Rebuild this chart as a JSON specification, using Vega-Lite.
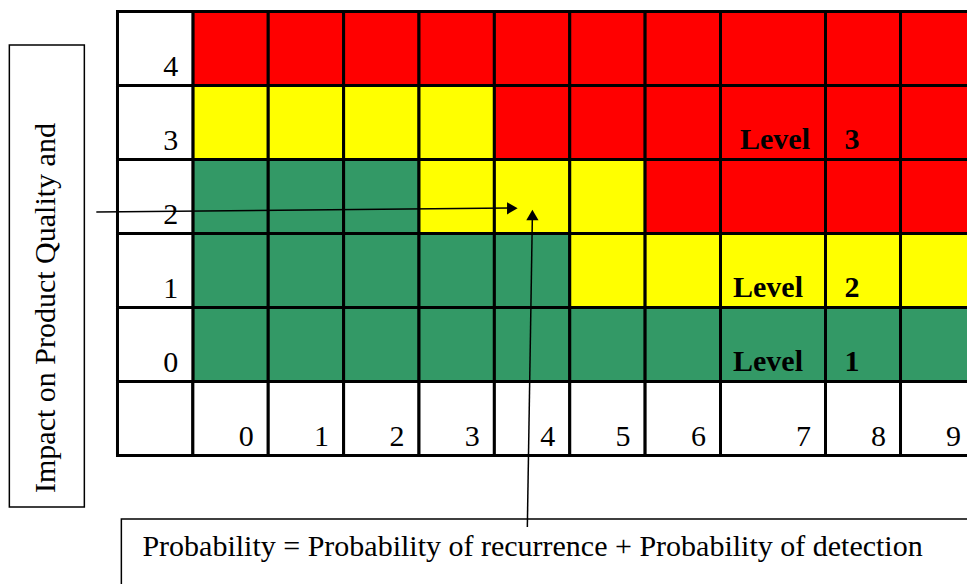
{
  "$schema": "https://vega.github.io/schema/vega-lite/v6.json",
  "width": 967,
  "height": 584,
  "autosize": {"type": "none"},
  "padding": 0,
  "background": "white",
  "config": {"view": {"stroke": null}, "axis": {"disable": true}},
  "resolve": {"scale": {"x": "independent"}},
  "datasets": {
    "cells": [
      {"p": 0, "i": 4, "zone": "high"}, {"p": 1, "i": 4, "zone": "high"}, {"p": 2, "i": 4, "zone": "high"}, {"p": 3, "i": 4, "zone": "high"}, {"p": 4, "i": 4, "zone": "high"},
      {"p": 5, "i": 4, "zone": "high"}, {"p": 6, "i": 4, "zone": "high"}, {"p": 7, "i": 4, "zone": "high"}, {"p": 8, "i": 4, "zone": "high"}, {"p": 9, "i": 4, "zone": "high"},
      {"p": 0, "i": 3, "zone": "medium"}, {"p": 1, "i": 3, "zone": "medium"}, {"p": 2, "i": 3, "zone": "medium"}, {"p": 3, "i": 3, "zone": "medium"}, {"p": 4, "i": 3, "zone": "high"},
      {"p": 5, "i": 3, "zone": "high"}, {"p": 6, "i": 3, "zone": "high"}, {"p": 7, "i": 3, "zone": "high"}, {"p": 8, "i": 3, "zone": "high"}, {"p": 9, "i": 3, "zone": "high"},
      {"p": 0, "i": 2, "zone": "low"}, {"p": 1, "i": 2, "zone": "low"}, {"p": 2, "i": 2, "zone": "low"}, {"p": 3, "i": 2, "zone": "medium"}, {"p": 4, "i": 2, "zone": "medium"},
      {"p": 5, "i": 2, "zone": "medium"}, {"p": 6, "i": 2, "zone": "high"}, {"p": 7, "i": 2, "zone": "high"}, {"p": 8, "i": 2, "zone": "high"}, {"p": 9, "i": 2, "zone": "high"},
      {"p": 0, "i": 1, "zone": "low"}, {"p": 1, "i": 1, "zone": "low"}, {"p": 2, "i": 1, "zone": "low"}, {"p": 3, "i": 1, "zone": "low"}, {"p": 4, "i": 1, "zone": "low"},
      {"p": 5, "i": 1, "zone": "medium"}, {"p": 6, "i": 1, "zone": "medium"}, {"p": 7, "i": 1, "zone": "medium"}, {"p": 8, "i": 1, "zone": "medium"}, {"p": 9, "i": 1, "zone": "medium"},
      {"p": 0, "i": 0, "zone": "low"}, {"p": 1, "i": 0, "zone": "low"}, {"p": 2, "i": 0, "zone": "low"}, {"p": 3, "i": 0, "zone": "low"}, {"p": 4, "i": 0, "zone": "low"},
      {"p": 5, "i": 0, "zone": "low"}, {"p": 6, "i": 0, "zone": "low"}, {"p": 7, "i": 0, "zone": "low"}, {"p": 8, "i": 0, "zone": "low"}, {"p": 9, "i": 0, "zone": "low"},
      {"p": -1, "i": 4, "zone": "none"}, {"p": -1, "i": 3, "zone": "none"}, {"p": -1, "i": 2, "zone": "none"}, {"p": -1, "i": 1, "zone": "none"}, {"p": -1, "i": 0, "zone": "none"}, {"p": -1, "i": -1, "zone": "none"},
      {"p": 0, "i": -1, "zone": "none"}, {"p": 1, "i": -1, "zone": "none"}, {"p": 2, "i": -1, "zone": "none"}, {"p": 3, "i": -1, "zone": "none"}, {"p": 4, "i": -1, "zone": "none"},
      {"p": 5, "i": -1, "zone": "none"}, {"p": 6, "i": -1, "zone": "none"}, {"p": 7, "i": -1, "zone": "none"}, {"p": 8, "i": -1, "zone": "none"}, {"p": 9, "i": -1, "zone": "none"}
    ],
    "labels": [
      {"p": -1, "i": 4, "label": "4"}, {"p": -1, "i": 3, "label": "3"}, {"p": -1, "i": 2, "label": "2"}, {"p": -1, "i": 1, "label": "1"}, {"p": -1, "i": 0, "label": "0"},
      {"p": 0, "i": -1, "label": "0"}, {"p": 1, "i": -1, "label": "1"}, {"p": 2, "i": -1, "label": "2"}, {"p": 3, "i": -1, "label": "3"}, {"p": 4, "i": -1, "label": "4"},
      {"p": 5, "i": -1, "label": "5"}, {"p": 6, "i": -1, "label": "6"}, {"p": 7, "i": -1, "label": "7"}, {"p": 8, "i": -1, "label": "8"}, {"p": 9, "i": -1, "label": "9"}
    ],
    "levels": [
      {"p": 7, "i": 3, "word": "Level", "num": "3"},
      {"p": 7, "i": 1, "word": "Level", "num": "2"},
      {"p": 7, "i": 0, "word": "Level", "num": "1"}
    ]
  },
  "layer": [
    {
      "data": {"name": "cells"},
      "mark": {"type": "rect", "stroke": "black", "strokeWidth": 3, "binSpacing": 0},
      "encoding": {
        "x": {"field": "p", "type": "quantitative", "bin": {"binned": true, "step": 1}, "axis": null,
              "scale": {"type": "linear", "domain": [-2.552, 7, 8, 9.893], "range": [0, 720, 825, 967], "zero": false, "nice": false}},
        "y": {"field": "i", "type": "quantitative", "bin": {"binned": true, "step": 1}, "axis": null,
              "scale": {"type": "linear", "domain": [-2.743, 5.149], "range": [584, 0], "zero": false, "nice": false}},
        "fill": {"field": "zone", "type": "nominal", "legend": null,
                 "scale": {"domain": ["low", "medium", "high", "none"], "range": ["#339966", "#FFFF00", "#FF0000", "#FFFFFF"]}}
      }
    },
    {
      "data": {"name": "labels"},
      "mark": {"type": "text", "align": "right", "baseline": "alphabetic", "dx": -14, "dy": -9, "font": "Liberation Serif", "fontSize": 30, "color": "black"},
      "encoding": {
        "x": {"field": "p", "type": "quantitative", "axis": null,
              "scale": {"type": "linear", "domain": [-3.552, 6, 7, 8.893], "range": [0, 720, 825, 967], "zero": false, "nice": false}},
        "y": {"field": "i", "type": "quantitative", "axis": null,
              "scale": {"type": "linear", "domain": [-2.743, 5.149], "range": [584, 0], "zero": false, "nice": false}},
        "text": {"field": "label", "type": "nominal"}
      }
    },
    {
      "data": {"name": "levels"},
      "transform": [{"filter": "datum.i == 3"}],
      "mark": {"type": "text", "align": "right", "baseline": "alphabetic", "dx": -15, "dy": -10, "font": "Liberation Serif", "fontSize": 30, "fontWeight": "bold", "color": "black"},
      "encoding": {
        "x": {"field": "p", "type": "quantitative", "axis": null,
              "scale": {"type": "linear", "domain": [-3.552, 6, 7, 8.893], "range": [0, 720, 825, 967], "zero": false, "nice": false}},
        "y": {"field": "i", "type": "quantitative", "axis": null,
              "scale": {"type": "linear", "domain": [-2.743, 5.149], "range": [584, 0], "zero": false, "nice": false}},
        "text": {"field": "word", "type": "nominal"}
      }
    },
    {
      "data": {"name": "levels"},
      "transform": [{"filter": "datum.i != 3"}],
      "mark": {"type": "text", "align": "right", "baseline": "alphabetic", "dx": -22, "dy": -10, "font": "Liberation Serif", "fontSize": 30, "fontWeight": "bold", "color": "black"},
      "encoding": {
        "x": {"field": "p", "type": "quantitative", "axis": null,
              "scale": {"type": "linear", "domain": [-3.552, 6, 7, 8.893], "range": [0, 720, 825, 967], "zero": false, "nice": false}},
        "y": {"field": "i", "type": "quantitative", "axis": null,
              "scale": {"type": "linear", "domain": [-2.743, 5.149], "range": [584, 0], "zero": false, "nice": false}},
        "text": {"field": "word", "type": "nominal"}
      }
    },
    {
      "data": {"name": "levels"},
      "mark": {"type": "text", "align": "center", "baseline": "alphabetic", "dx": 27, "dy": -10, "font": "Liberation Serif", "fontSize": 30, "fontWeight": "bold", "color": "black"},
      "encoding": {
        "x": {"field": "p", "type": "quantitative", "axis": null,
              "scale": {"type": "linear", "domain": [-3.552, 6, 7, 8.893], "range": [0, 720, 825, 967], "zero": false, "nice": false}},
        "y": {"field": "i", "type": "quantitative", "axis": null,
              "scale": {"type": "linear", "domain": [-2.743, 5.149], "range": [584, 0], "zero": false, "nice": false}},
        "text": {"field": "num", "type": "nominal"}
      }
    },
    {
      "data": {"values": [{}]},
      "mark": {"type": "rect", "fill": null, "stroke": "black", "strokeWidth": 1.5},
      "encoding": {
        "x": {"datum": -2.428, "type": "quantitative", "axis": null, "scale": {"type": "linear", "domain": [-2.552, 7, 8, 9.893], "range": [0, 720, 825, 967], "zero": false, "nice": false}},
        "x2": {"datum": -1.433},
        "y": {"datum": 4.541, "type": "quantitative", "axis": null, "scale": {"type": "linear", "domain": [-2.743, 5.149], "range": [584, 0], "zero": false, "nice": false}},
        "y2": {"datum": -1.703}
      }
    },
    {
      "data": {"values": [{}]},
      "mark": {"type": "text", "angle": 270, "align": "center", "baseline": "middle", "font": "Liberation Serif", "fontSize": 30, "color": "black", "text": "Impact on Product Quality and"},
      "encoding": {
        "x": {"datum": -1.937, "type": "quantitative", "axis": null, "scale": {"type": "linear", "domain": [-2.552, 7, 8, 9.893], "range": [0, 720, 825, 967], "zero": false, "nice": false}},
        "y": {"datum": 0.986, "type": "quantitative", "axis": null, "scale": {"type": "linear", "domain": [-2.743, 5.149], "range": [584, 0], "zero": false, "nice": false}}
      }
    },
    {
      "data": {"values": [{}]},
      "mark": {"type": "rect", "fill": null, "stroke": "black", "strokeWidth": 1.5},
      "encoding": {
        "x": {"datum": -0.942, "type": "quantitative", "axis": null, "scale": {"type": "linear", "domain": [-2.552, 7, 8, 9.893], "range": [0, 720, 825, 967], "zero": false, "nice": false}},
        "x2": {"datum": 10.5},
        "y": {"datum": -1.865, "type": "quantitative", "axis": null, "scale": {"type": "linear", "domain": [-2.743, 5.149], "range": [584, 0], "zero": false, "nice": false}},
        "y2": {"datum": -3.5}
      }
    },
    {
      "data": {"values": [{}]},
      "mark": {"type": "text", "align": "left", "baseline": "alphabetic", "font": "Liberation Serif", "fontSize": 30, "color": "black", "text": "Probability = Probability of recurrence + Probability of detection"},
      "encoding": {
        "x": {"datum": -0.663, "type": "quantitative", "axis": null, "scale": {"type": "linear", "domain": [-2.552, 7, 8, 9.893], "range": [0, 720, 825, 967], "zero": false, "nice": false}},
        "y": {"datum": -2.365, "type": "quantitative", "axis": null, "scale": {"type": "linear", "domain": [-2.743, 5.149], "range": [584, 0], "zero": false, "nice": false}}
      }
    },
    {
      "data": {"values": [{}]},
      "mark": {"type": "rule", "stroke": "black", "strokeWidth": 1.5},
      "encoding": {
        "x": {"datum": -1.274, "type": "quantitative", "axis": null, "scale": {"type": "linear", "domain": [-2.552, 7, 8, 9.893], "range": [0, 720, 825, 967], "zero": false, "nice": false}},
        "x2": {"datum": 4.206},
        "y": {"datum": 2.284, "type": "quantitative", "axis": null, "scale": {"type": "linear", "domain": [-2.743, 5.149], "range": [584, 0], "zero": false, "nice": false}},
        "y2": {"datum": 2.338}
      }
    },
    {
      "data": {"values": [{}]},
      "mark": {"type": "rule", "stroke": "black", "strokeWidth": 1.5},
      "encoding": {
        "x": {"datum": 4.444, "type": "quantitative", "axis": null, "scale": {"type": "linear", "domain": [-2.552, 7, 8, 9.893], "range": [0, 720, 825, 967], "zero": false, "nice": false}},
        "x2": {"datum": 4.511},
        "y": {"datum": -1.973, "type": "quantitative", "axis": null, "scale": {"type": "linear", "domain": [-2.743, 5.149], "range": [584, 0], "zero": false, "nice": false}},
        "y2": {"datum": 2.243}
      }
    },
    {
      "data": {"values": [{}]},
      "mark": {"type": "point", "shape": "triangle-right", "filled": true, "color": "black", "size": 150, "opacity": 1},
      "encoding": {
        "x": {"datum": 4.245, "type": "quantitative", "axis": null, "scale": {"type": "linear", "domain": [-2.552, 7, 8, 9.893], "range": [0, 720, 825, 967], "zero": false, "nice": false}},
        "y": {"datum": 2.334, "type": "quantitative", "axis": null, "scale": {"type": "linear", "domain": [-2.743, 5.149], "range": [584, 0], "zero": false, "nice": false}}
      }
    },
    {
      "data": {"values": [{}]},
      "mark": {"type": "point", "shape": "triangle-up", "filled": true, "color": "black", "size": 150, "opacity": 1},
      "encoding": {
        "x": {"datum": 4.511, "type": "quantitative", "axis": null, "scale": {"type": "linear", "domain": [-2.552, 7, 8, 9.893], "range": [0, 720, 825, 967], "zero": false, "nice": false}},
        "y": {"datum": 2.243, "type": "quantitative", "axis": null, "scale": {"type": "linear", "domain": [-2.743, 5.149], "range": [584, 0], "zero": false, "nice": false}}
      }
    }
  ]
}
